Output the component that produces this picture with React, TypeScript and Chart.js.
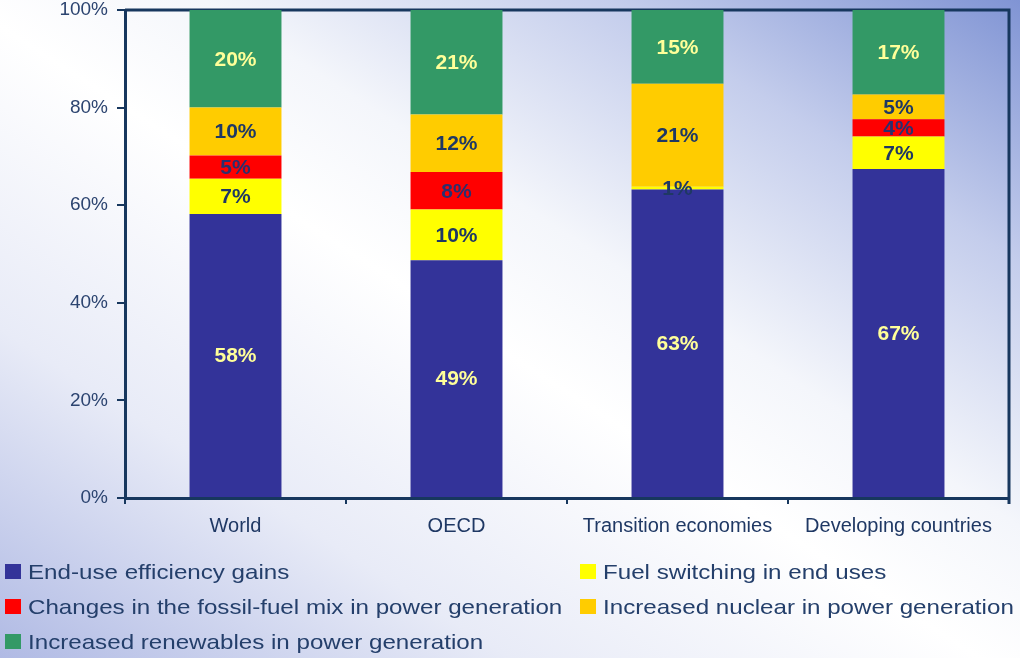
import React, { useEffect, useRef } from "react";
import { Chart, registerables } from "chart.js";

Chart.register(...registerables);

const categories = ["World", "OECD", "Transition economies", "Developing countries"];

const seriesNames = [
  "End-use efficiency gains",
  "Fuel switching in end uses",
  "Changes in the fossil-fuel mix in power generation",
  "Increased nuclear in power generation",
  "Increased renewables in power generation",
];

const endUseEfficiency = [58.2, 48.7, 63.2, 67.4];
const fuelSwitching = [7.2, 10.4, 0.6, 6.7];
const fossilFuelMix = [4.8, 7.7, 0, 3.5];
const nuclear = [9.8, 11.8, 21.1, 5.1];
const renewables = [20.0, 21.4, 15.1, 17.3];

const seriesColors = ["#333399", "#ffff00", "#ff0000", "#ffcc00", "#339966"];
const labelColors = ["#ffff99", "#1f3864", "#2b2f6e", "#1f3864", "#ffff99"];

const yTicks = [0, 20, 40, 60, 80, 100];

const FONT = "'Liberation Sans', Arial, sans-serif";
const NAVY = "#17375e";

const framePlugin = {
  id: "frame",
  beforeDatasetsDraw(chart: any) {
    const { ctx, chartArea } = chart;
    ctx.save();
    ctx.strokeStyle = NAVY;
    ctx.lineWidth = 3;
    ctx.beginPath();
    ctx.moveTo(chartArea.left, chartArea.top);
    ctx.lineTo(chartArea.right, chartArea.top);
    ctx.lineTo(chartArea.right, chartArea.bottom + 6);
    ctx.stroke();
    ctx.restore();
  },
};

const valueLabelPlugin = {
  id: "valueLabels",
  afterDatasetsDraw(chart: any) {
    const { ctx } = chart;
    ctx.save();
    ctx.font = `bold 21px ${FONT}`;
    ctx.textAlign = "center";
    ctx.textBaseline = "middle";
    chart.data.datasets.forEach((ds: any, di: number) => {
      const meta = chart.getDatasetMeta(di);
      meta.data.forEach((el: any, i: number) => {
        const v = ds.data[i];
        if (!v || v <= 0) return;
        const p = el.getProps(["x", "y", "base"], true);
        ctx.fillStyle = labelColors[di];
        ctx.fillText(Math.round(v) + "%", p.x, (p.y + p.base) / 2 + 1);
      });
    });
    ctx.restore();
  },
};

const legendPlugin = {
  id: "customLegend",
  afterDraw(chart: any) {
    const { ctx } = chart;
    const cols = [5, 580];
    const rows = [572, 607, 642];
    ctx.save();
    ctx.textBaseline = "middle";
    ctx.textAlign = "left";
    chart.data.datasets.forEach((ds: any, di: number) => {
      const x = cols[di % 2];
      const y = rows[Math.floor(di / 2)];
      ctx.fillStyle = ds.backgroundColor;
      ctx.fillRect(x, y - 8, 16, 15);
      ctx.save();
      ctx.translate(x + 23, y + 1);
      ctx.scale(1.15, 1);
      ctx.font = `21px ${FONT}`;
      ctx.fillStyle = "#243f6b";
      ctx.fillText(ds.label, 0, 0);
      ctx.restore();
    });
    ctx.restore();
  },
};

export default function App() {
  const ref = useRef<HTMLCanvasElement>(null);

  useEffect(() => {
    if (!ref.current) return;
    const seriesData = [endUseEfficiency, fuelSwitching, fossilFuelMix, nuclear, renewables];
    const chart = new Chart(ref.current, {
      type: "bar",
      data: {
        labels: categories,
        datasets: seriesNames.map((name, i) => ({
          label: name,
          data: seriesData[i],
          backgroundColor: seriesColors[i],
          borderWidth: 0,
          categoryPercentage: 1,
          barPercentage: 0.416,
        })),
      },
      options: {
        responsive: false,
        animation: false,
        layout: { padding: { top: 10, right: 11, left: 0, bottom: 115 } },
        plugins: {
          legend: { display: false },
          tooltip: { enabled: false },
        },
        scales: {
          x: {
            stacked: true,
            afterFit: (s: any) => {
              s.height = 45;
              s.paddingLeft = 0;
              s.paddingRight = 0;
            },
            grid: {
              display: true,
              drawOnChartArea: false,
              drawTicks: true,
              tickLength: 6,
              color: NAVY,
              lineWidth: 2,
              offset: true,
            },
            border: { display: true, color: NAVY, width: 3 },
            ticks: {
              color: "#1f3864",
              font: { family: FONT, size: 20 },
              padding: 10,
              maxRotation: 0,
            },
          },
          y: {
            stacked: true,
            min: 0,
            max: 100,
            afterFit: (s: any) => {
              s.width = 125;
              s.paddingTop = 0;
              s.paddingBottom = 0;
            },
            afterBuildTicks: (s: any) => {
              s.ticks = yTicks.map((v) => ({ value: v }));
            },
            grid: {
              display: true,
              drawOnChartArea: false,
              drawTicks: true,
              tickLength: 8,
              color: NAVY,
              lineWidth: 2,
            },
            border: { display: true, color: NAVY, width: 3 },
            ticks: {
              color: "#2c4470",
              font: { family: FONT, size: 19 },
              padding: 9,
              callback: (v: any) => v + "%",
            },
          },
        },
      },
      plugins: [framePlugin, valueLabelPlugin, legendPlugin],
    });
    return () => chart.destroy();
  }, []);

  return (
    <div
      style={{
        position: "absolute",
        left: 0,
        top: 0,
        width: 1020,
        height: 658,
        background:
          "linear-gradient(to top right, #b0bae4 0%, #e8ebf7 25%, #ffffff 48%, #f4f6fb 60%, #c4cdec 80%, #8094d4 100%)",
      }}
    >
      <canvas ref={ref} width={1020} height={658} style={{ display: "block" }} />
    </div>
  );
}
